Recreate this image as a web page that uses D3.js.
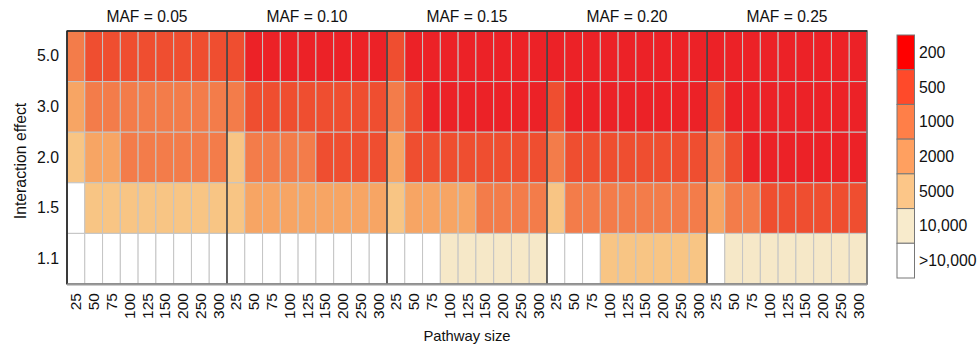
<!DOCTYPE html>
<html>
<head>
<meta charset="utf-8">
<script src="https://cdn.jsdelivr.net/npm/d3@7"></script>
<style>
  body { margin: 0; background: #fff; }
  text { font-family: "Liberation Sans", Arial, sans-serif; fill: #111; }
</style>
</head>
<body>
<div id="chart"></div>
<script>
const mafLabels = ['MAF = 0.05', 'MAF = 0.10', 'MAF = 0.15', 'MAF = 0.20', 'MAF = 0.25'];
const pathwaySizes = ['25', '50', '75', '100', '125', '150', '200', '250', '300'];
const effects = ['5.0', '3.0', '2.0', '1.5', '1.1'];
const legendLabels = ['200', '500', '1000', '2000', '5000', '10,000', '>10,000'];

// sample size class per cell (index into legendLabels), rows follow effects
const maf005 = [
  [2, 1, 1, 1, 1, 1, 1, 1, 1],
  [3, 2, 2, 2, 2, 2, 2, 2, 2],
  [4, 3, 3, 2, 2, 2, 2, 2, 2],
  [6, 4, 4, 4, 4, 4, 4, 4, 4],
  [6, 6, 6, 6, 6, 6, 6, 6, 6]
];
const maf010 = [
  [1, 0, 0, 0, 0, 0, 0, 0, 0],
  [2, 1, 1, 1, 1, 1, 1, 1, 1],
  [4, 2, 2, 2, 2, 1, 1, 1, 1],
  [4, 3, 3, 3, 3, 3, 3, 3, 3],
  [6, 6, 6, 6, 6, 6, 6, 6, 6]
];
const maf015 = [
  [1, 0, 0, 0, 0, 0, 0, 0, 0],
  [2, 1, 0, 0, 0, 0, 0, 0, 0],
  [3, 1, 1, 1, 1, 1, 1, 1, 1],
  [4, 3, 3, 3, 3, 2, 2, 2, 2],
  [6, 6, 6, 5, 5, 5, 5, 5, 5]
];
const maf020 = [
  [0, 0, 0, 0, 0, 0, 0, 0, 0],
  [1, 0, 0, 0, 0, 0, 0, 0, 0],
  [2, 1, 1, 1, 1, 1, 1, 1, 1],
  [4, 2, 2, 2, 2, 2, 2, 2, 2],
  [6, 6, 6, 4, 4, 4, 4, 4, 4]
];
const maf025 = [
  [0, 0, 0, 0, 0, 0, 0, 0, 0],
  [1, 0, 0, 0, 0, 0, 0, 0, 0],
  [2, 1, 0, 0, 0, 0, 0, 0, 0],
  [3, 2, 2, 1, 1, 1, 1, 1, 1],
  [6, 5, 5, 5, 5, 5, 5, 5, 5]
];
const panels = [maf005, maf010, maf015, maf020, maf025];

const cellColors = ['#ec2227', '#ef4e30', '#f37c4a', '#f7a564', '#f8c584', '#f6e8c8', '#ffffff'];
const keyColors = ['#ff0000', '#ff4a2a', '#ff7f48', '#ffa060', '#fcc688', '#f8ebcc', '#ffffff'];

const width = 978, height = 347;
const plot = { left: 67, right: 867, top: 31, bottom: 284 };
const font = '"Liberation Sans", Arial, sans-serif';

const svg = d3.select('#chart').append('svg')
  .attr('width', width).attr('height', height);

const panelX = d3.scaleBand().domain(mafLabels).range([plot.left, plot.right]);
const cellX = d3.scaleBand().domain(pathwaySizes).range([0, panelX.bandwidth()]);
const y = d3.scaleBand().domain(effects).range([plot.top, plot.bottom]);
const fill = d3.scaleOrdinal().domain(d3.range(7)).range(cellColors);

const cells = [];
panels.forEach((m, p) => m.forEach((row, r) => row.forEach((v, c) => {
  cells.push({ maf: mafLabels[p], size: pathwaySizes[c], effect: effects[r], v });
})));

svg.append('g').selectAll('rect').data(cells).join('rect')
  .attr('x', d => panelX(d.maf) + cellX(d.size))
  .attr('y', d => y(d.effect))
  .attr('width', cellX.bandwidth())
  .attr('height', y.bandwidth())
  .attr('fill', d => fill(d.v))
  .attr('stroke', '#c4c4c4')
  .attr('stroke-width', 1);

// panel separators
svg.append('g').selectAll('line').data(mafLabels.slice(1)).join('line')
  .attr('x1', d => panelX(d)).attr('x2', d => panelX(d))
  .attr('y1', plot.top).attr('y2', plot.bottom)
  .attr('stroke', '#111').attr('stroke-width', 1.2);

// outer frame
svg.append('rect')
  .attr('x', plot.left).attr('y', plot.top)
  .attr('width', plot.right - plot.left).attr('height', plot.bottom - plot.top)
  .attr('fill', 'none').attr('stroke', '#666').attr('stroke-width', 1.5);
svg.append('line')
  .attr('x1', plot.left).attr('x2', plot.right)
  .attr('y1', plot.top).attr('y2', plot.top)
  .attr('stroke', '#222').attr('stroke-width', 1.5);
svg.append('line')
  .attr('x1', plot.left).attr('x2', plot.left)
  .attr('y1', plot.top).attr('y2', plot.bottom)
  .attr('stroke', '#222').attr('stroke-width', 1.5);
svg.append('line')
  .attr('x1', plot.left).attr('x2', plot.right)
  .attr('y1', plot.bottom + 0.5).attr('y2', plot.bottom + 0.5)
  .attr('stroke', '#999').attr('stroke-width', 2);

// panel titles
svg.append('g').selectAll('text').data(mafLabels).join('text')
  .attr('x', d => panelX(d) + panelX.bandwidth() / 2)
  .attr('y', 22)
  .attr('text-anchor', 'middle')
  .attr('font-size', 15.6)
  .text(d => d);

// y axis labels
const yAxis = svg.append('g')
  .attr('transform', `translate(${plot.left},0)`)
  .call(d3.axisLeft(y).tickSize(0).tickPadding(8));
yAxis.select('.domain').remove();
yAxis.selectAll('text').attr('font-size', 15.8).style('font-family', font).attr('fill', '#111');

svg.append('text')
  .attr('transform', `translate(26,161) rotate(-90)`)
  .attr('text-anchor', 'middle')
  .attr('font-size', 15.8)
  .text('Interaction effect');

// x axis labels per panel
mafLabels.forEach(m => {
  const g = svg.append('g')
    .attr('transform', `translate(${panelX(m)},${plot.bottom})`)
    .call(d3.axisBottom(cellX).tickSize(0).tickPadding(0));
  g.select('.domain').remove();
  g.selectAll('text')
    .attr('font-size', 15.5)
    .style('font-family', font)
    .attr('fill', '#111')
    .attr('text-anchor', 'end')
    .attr('dy', null)
    .attr('transform', 'translate(5.5,9) rotate(-90)');
});

svg.append('text')
  .attr('x', 467)
  .attr('y', 341)
  .attr('text-anchor', 'middle')
  .attr('font-size', 14.8)
  .text('Pathway size');

// legend
const legendY = d3.scaleBand().domain(legendLabels).range([35, 278]);
const legend = svg.append('g');
legend.selectAll('rect').data(legendLabels).join('rect')
  .attr('x', 897).attr('y', d => legendY(d))
  .attr('width', 17.5).attr('height', legendY.bandwidth())
  .attr('fill', (d, i) => keyColors[i])
  .attr('stroke', '#777').attr('stroke-width', 1);
legend.selectAll('text').data(legendLabels).join('text')
  .attr('x', 919).attr('y', d => legendY(d) + legendY.bandwidth() / 2 + 5.5)
  .attr('font-size', 15.8)
  .text(d => d);
</script>
</body>
</html>
